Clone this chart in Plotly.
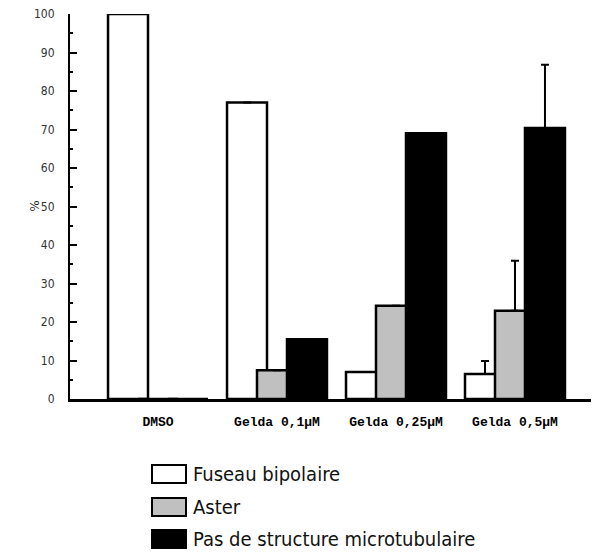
import plotly.graph_objects as go

categories = ["DMSO", "Gelda 0,1µM", "Gelda 0,25µM", "Gelda 0,5µM"]
series_names = ["Fuseau bipolaire", "Aster", "Pas de structure microtubulaire"]
fuseau = [100, 77, 7, 6.5]
aster = [0, 7.5, 24.2, 22.9]
pas_structure = [0, 15.5, 69, 70.4]
fuseau_err = [0, 0, 0, 3.4]
aster_err = [0, 0, 0, 13]
pas_err = [0, 0, 0, 16.4]
y_ticks = [0, 10, 20, 30, 40, 50, 60, 70, 80, 90, 100]

fills = ["white", "#c0c0c0", "black"]
offsets = [-0.42, -0.168, 0.084]
width = 0.336
values = [fuseau, aster, pas_structure]
errors = [fuseau_err, aster_err, pas_err]

xpos = list(range(len(categories)))

fig = go.Figure()
for name, vals, err, fc, off in zip(series_names, values, errors, fills, offsets):
    fig.add_trace(go.Bar(
        x=xpos, y=vals, name=name, width=width, offset=off,
        marker=dict(color=fc, line=dict(color="black", width=2.5)),
        error_y=dict(type="data", array=err, arrayminus=[0]*len(err), symmetric=False,
                     visible=True, color="black", thickness=2, width=4),
        showlegend=False,
    ))

# page has an 8px body margin: compensate
fig.update_layout(
    width=591, height=544,
    margin=dict(l=62, r=0, t=6, b=153),
    plot_bgcolor="white", paper_bgcolor="white",
    barmode="overlay",
    font=dict(family="Liberation Sans Narrow, DejaVu Sans Condensed, sans-serif", color="#222"),
)
fig.update_xaxes(
    range=[-0.7395, 3.706], tickvals=xpos, ticktext=categories,
    showgrid=False, zeroline=False, showline=True, linecolor="black", linewidth=3,
    ticks="", ticklabelstandoff=8,
    tickfont=dict(family="Liberation Mono, monospace", size=13, color="black", weight="bold"),
)
fig.update_yaxes(
    range=[0, 100], tickvals=y_ticks, showgrid=False, zeroline=False,
    showline=True, linecolor="black", linewidth=2,
    ticks="inside", ticklen=7, tickwidth=2, tickcolor="black",
    minor=dict(dtick=5, ticks="inside", ticklen=3, tickwidth=2, tickcolor="black", showgrid=False),
    ticklabelstandoff=11, ticklabeloverflow="allow",
    tickfont=dict(size=12, color="#333"),
)

# y-axis title
fig.add_annotation(text="%", xref="paper", yref="paper", x=(34 - 70) / 529, y=0.5,
                   showarrow=False, textangle=-90, font=dict(size=13, color="#222"),
                   xanchor="center", yanchor="middle")

# manual legend below the plot
leg_y = [-0.195, -0.2805, -0.3636]
box_x0 = (152 - 70) / 529
box_x1 = (186 - 70) / 529
box_h = 18 / 385
for name, fc, ly in zip(series_names, fills, leg_y):
    fig.add_shape(type="rect", xref="paper", yref="paper",
                  x0=box_x0, x1=box_x1, y0=ly - box_h / 2, y1=ly + box_h / 2,
                  fillcolor=fc, line=dict(color="black", width=2))
    fig.add_annotation(text=name, xref="paper", yref="paper", x=(191 - 70) / 529, y=ly,
                       xanchor="left", yanchor="middle", showarrow=False,
                       font=dict(size=20, color="#111",
                                 family="DejaVu Sans Condensed, Liberation Sans Narrow, sans-serif"))

fig.write_html("out.html")
